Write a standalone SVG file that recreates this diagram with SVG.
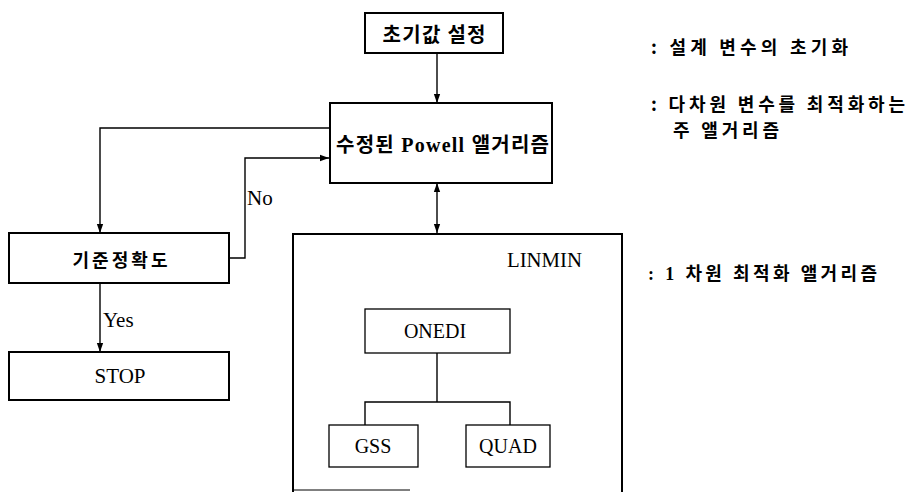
<svg xmlns="http://www.w3.org/2000/svg" width="910" height="492" viewBox="0 0 910 492">
<style>
.box{fill:#fff;stroke:#000;stroke-width:2}
.sub{fill:#fff;stroke:#000;stroke-width:1.3}
.ln{fill:none;stroke:#000;stroke-width:1.4}
.kr{font-family:"Noto Sans CJK KR",sans-serif;font-weight:bold;fill:#000}
.en{font-family:"Liberation Serif","Noto Sans CJK KR",serif;fill:#000}
.mix{font-family:"Liberation Serif","Noto Sans CJK KR",serif;font-weight:bold;fill:#000}
</style>
<defs>
<marker id="ah" viewBox="0 0 10 10" refX="10" refY="5" markerWidth="9" markerHeight="9" markerUnits="userSpaceOnUse" orient="auto-start-reverse">
<path d="M0,1.5 L10,5 L0,8.5 Z" fill="#000"/>
</marker>
</defs>
<g id="connectors">
<line class="ln" x1="437" y1="53" x2="437" y2="103" marker-end="url(#ah)"/>
<line class="ln" x1="437" y1="183" x2="437" y2="233" marker-start="url(#ah)" marker-end="url(#ah)"/>
<polyline class="ln" points="330,128 100,128 100,233" marker-end="url(#ah)"/>
<polyline class="ln" points="229,258 245,258 245,158 329,158" marker-end="url(#ah)"/>
<line class="ln" x1="100" y1="283" x2="100" y2="352" marker-end="url(#ah)"/>
<polyline class="ln" points="437,353 437,402"/>
<polyline class="ln" points="365,425 365,402 510,402 510,425"/>
</g>
<g id="init">
<rect class="box" x="365" y="13" width="138" height="40"/>
<text class="kr" x="434" y="42" font-size="20" text-anchor="middle" textLength="103" lengthAdjust="spacing">초기값 설정</text>
</g>
<g id="powell">
<rect class="box" x="330" y="103" width="222" height="80"/>
<text class="mix" x="336" y="152" font-size="20" textLength="213" lengthAdjust="spacing">수정된 Powell 앨거리즘</text>
</g>
<g id="criterion">
<rect class="box" x="9" y="233" width="220" height="50"/>
<text class="kr" x="120" y="267" font-size="18" text-anchor="middle" textLength="95" lengthAdjust="spacing">기준정확도</text>
</g>
<g id="stop">
<rect class="box" x="9" y="352" width="220" height="48"/>
<text class="en" x="120" y="383" font-size="21" text-anchor="middle">STOP</text>
</g>
<g id="labels">
<text class="en" x="247" y="205" font-size="21">No</text>
<text class="en" x="103" y="327" font-size="21">Yes</text>
</g>
<g id="linmin">
<path d="M293,492 L293,234 L622,234 L622,492" fill="none" stroke="#000" stroke-width="2"/>
<line x1="293" y1="490" x2="410" y2="490" stroke="#000" stroke-width="1"/>
<text class="en" x="507" y="267" font-size="20" textLength="75" lengthAdjust="spacingAndGlyphs">LINMIN</text>
</g>
<g id="onedi">
<rect class="sub" x="365" y="309" width="145" height="44"/>
<text class="en" x="435" y="338" font-size="20" text-anchor="middle">ONEDI</text>
</g>
<g id="gss">
<rect class="sub" x="329" y="425" width="89" height="42"/>
<text class="en" x="373" y="453" font-size="20" text-anchor="middle">GSS</text>
</g>
<g id="quad">
<rect class="sub" x="466" y="425" width="84" height="42"/>
<text class="en" x="508" y="453" font-size="20" text-anchor="middle">QUAD</text>
</g>
<g id="notes">
<text class="kr" x="651" y="54" font-size="18" textLength="197" lengthAdjust="spacing">: 설계 변수의 초기화</text>
<text class="kr" x="651" y="111" font-size="18" textLength="254" lengthAdjust="spacing">: 다차원 변수를 최적화하는</text>
<text class="kr" x="673" y="137" font-size="18" textLength="106" lengthAdjust="spacing">주 앨거리즘</text>
<text class="mix" x="648" y="280" font-size="18" textLength="229" lengthAdjust="spacing">: 1 차원 최적화 앨거리즘</text>
</g>
</svg>
